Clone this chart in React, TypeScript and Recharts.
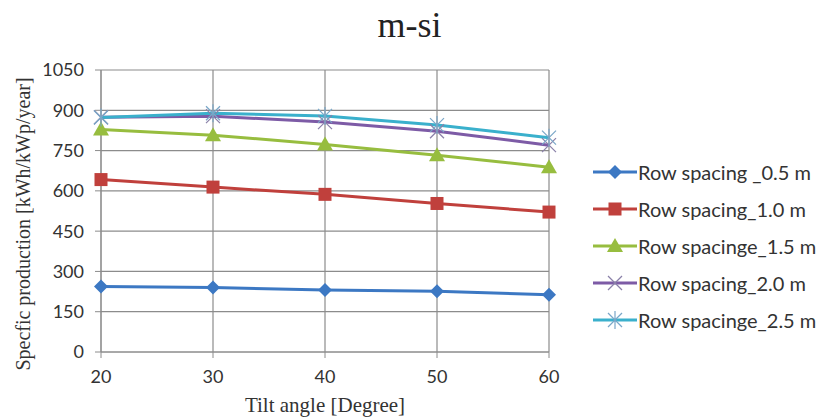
import { LineChart, Line, XAxis, YAxis, CartesianGrid } from "recharts";

/* ---------- DATA ---------- */
const tiltAngles = [20, 30, 40, 50, 60];
const yTicks = [0, 150, 300, 450, 600, 750, 900, 1050];

const spacing05 = [244, 240, 231, 226, 213];
const spacing10 = [642, 614, 587, 553, 521];
const spacing15 = [828, 807, 773, 733, 688];
const spacing20 = [874, 878, 856, 822, 770];
const spacing25 = [873, 889, 879, 845, 798];

const SERIES = [
  { key: "s05", name: "Row spacing _0.5 m", color: "#3c78c3", shape: "diamond", values: spacing05 },
  { key: "s10", name: "Row spacing_1.0 m", color: "#c0403c", shape: "square", values: spacing10 },
  { key: "s15", name: "Row spacinge_1.5 m", color: "#97bd3f", shape: "triangle", values: spacing15 },
  { key: "s20", name: "Row spacing_2.0 m", color: "#7d5ba6", shape: "x", values: spacing20 },
  { key: "s25", name: "Row spacinge_2.5 m", color: "#3ab0cc", shape: "star", values: spacing25 },
];

const data = tiltAngles.map((t, i) => {
  const row: any = { tilt: t };
  SERIES.forEach((s) => (row[s.key] = s.values[i]));
  return row;
});

/* ---------- MARKERS ---------- */
function Marker({ cx, cy, shape, color }: { cx: number; cy: number; shape: string; color: string }) {
  if (shape === "diamond") {
    const r = 7;
    return <polygon points={`${cx},${cy - r} ${cx + r},${cy} ${cx},${cy + r} ${cx - r},${cy}`} fill={color} />;
  }
  if (shape === "square") {
    return <rect x={cx - 6.5} y={cy - 6.5} width={13} height={13} fill={color} />;
  }
  if (shape === "triangle") {
    return <polygon points={`${cx},${cy - 8} ${cx + 8},${cy + 6} ${cx - 8},${cy + 6}`} fill={color} />;
  }
  const r = 7;
  return (
    <g stroke={shape === "x" ? "#8a80a8" : "#7aa7c8"} strokeWidth={1.2}>
      <line x1={cx - r} y1={cy - r} x2={cx + r} y2={cy + r} />
      <line x1={cx - r} y1={cy + r} x2={cx + r} y2={cy - r} />
      {shape === "star" && <line x1={cx} y1={cy - r - 2} x2={cx} y2={cy + r + 2} />}
    </g>
  );
}

/* ---------- LEGEND ---------- */
function ChartLegend() {
  return (
    <div
      style={{
        position: "absolute",
        left: 592,
        top: 153,
        fontFamily: "Lato",
        fontSize: 20,
        color: "#333",
      }}
    >
      {SERIES.map((s) => (
        <div key={s.key} style={{ display: "flex", alignItems: "center", height: 37 }}>
          <svg width={46} height={20}>
            <line x1={1} y1={10} x2={45} y2={10} stroke={s.color} strokeWidth={3} />
            <Marker cx={23} cy={10} shape={s.shape} color={s.color} />
          </svg>
          <span style={{ whiteSpace: "nowrap" }}>{s.name}</span>
        </div>
      ))}
    </div>
  );
}

/* ---------- COMPONENT ---------- */
export default function App() {
  return (
    <div style={{ position: "absolute", left: 0, top: 0, width: 819, height: 419, background: "#fff" }}>
      <div
        style={{
          position: "absolute",
          top: 5,
          left: 0,
          width: 819,
          textAlign: "center",
          fontFamily: "Liberation Serif",
          fontSize: 36,
          lineHeight: "40px",
          color: "#222",
        }}
      >
        m-si
      </div>
      <div
        style={{
          position: "absolute",
          top: 393,
          left: 101,
          width: 448,
          textAlign: "center",
          fontFamily: "Liberation Serif",
          fontSize: 21,
          lineHeight: "24px",
          color: "#333",
        }}
      >
        Tilt angle [Degree]
      </div>
      <div
        style={{
          position: "absolute",
          left: 23,
          top: 224,
          transform: "translate(-50%, -50%) rotate(-90deg)",
          whiteSpace: "nowrap",
          fontFamily: "Liberation Serif",
          fontSize: 20,
          color: "#333",
        }}
      >
        Specfic production [kWh/kWp/year]
      </div>
      <LineChart width={819} height={419} data={data} margin={{ top: 70, right: 270, bottom: 0, left: 0 }}>
        <CartesianGrid stroke="#8c8c8c" strokeWidth={1.2} />
        <XAxis
          dataKey="tilt"
          type="number"
          domain={[20, 60]}
          ticks={tiltAngles}
          height={67}
          tickSize={6}
          stroke="#8c8c8c"
          tick={{ fill: "#333", fontSize: 18, fontFamily: "Lato", dy: 10 }}
        />
        <YAxis
          domain={[0, 1050]}
          ticks={yTicks}
          width={101}
          tickSize={6}
          stroke="#8c8c8c"
          interval={0}
          tick={{ fill: "#333", fontSize: 18, fontFamily: "Lato", dx: -9 }}
        />
        {SERIES.map((s) => (
          <Line
            key={s.key}
            type="linear"
            dataKey={s.key}
            name={s.name}
            stroke={s.color}
            strokeWidth={3}
            isAnimationActive={false}
            dot={(p: any) => <Marker key={`${s.key}-${p.index}`} cx={p.cx} cy={p.cy} shape={s.shape} color={s.color} />}
            activeDot={false}
          />
        ))}
      </LineChart>
      <ChartLegend />
    </div>
  );
}
